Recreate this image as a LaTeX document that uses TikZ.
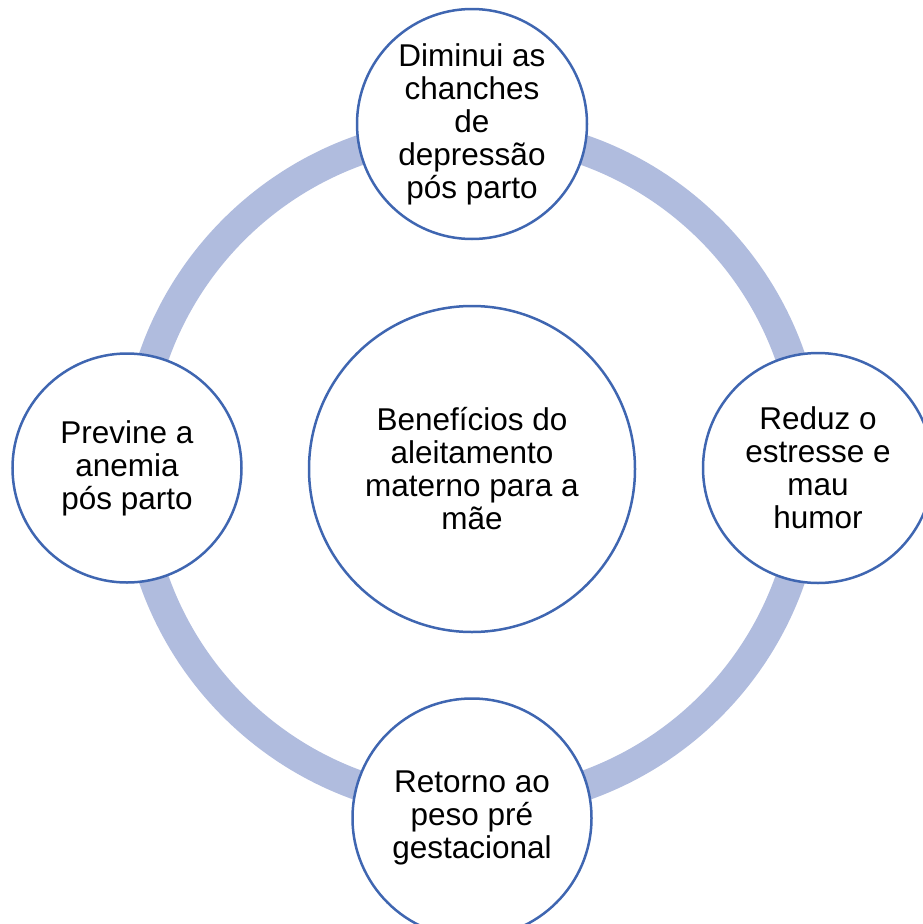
\documentclass[tikz,border=0pt]{standalone}
\usepackage{fontspec}
\setmainfont{Liberation Sans}
\definecolor{ringc}{RGB}{176,188,222}
\definecolor{edgec}{RGB}{63,102,177}
\begin{document}
\begin{tikzpicture}[x=1pt,y=-1pt,
  bub/.style={circle, draw=edgec, line width=2.5pt, fill=white, inner sep=0pt,
    align=center, text=black, font=\fontsize{31.5}{33}\selectfont}]
\useasboundingbox (0,0) rectangle (923,924);
\coordinate (o) at (472,468);
\draw[ringc, line width=30pt] (o) circle[radius=337pt];
\node[bub, minimum size=326pt] (c) at (472,469) {Benefícios do\\aleitamento\\materno para a\\mãe};
\node[bub, minimum size=230pt] (t) at (472,124) {Diminui as\\chanches\\de\\depressão\\pós parto};
\node[bub, minimum size=230pt] (r) at (818,468) {Reduz o\\estresse e\\mau\\humor};
\node[bub, minimum size=229pt] (l) at (127,468) {Previne a\\anemia\\pós parto};
\node[bub, minimum size=239pt] (b) at (472,818) {Retorno ao\\peso pré\\gestacional};
\end{tikzpicture}
\end{document}
